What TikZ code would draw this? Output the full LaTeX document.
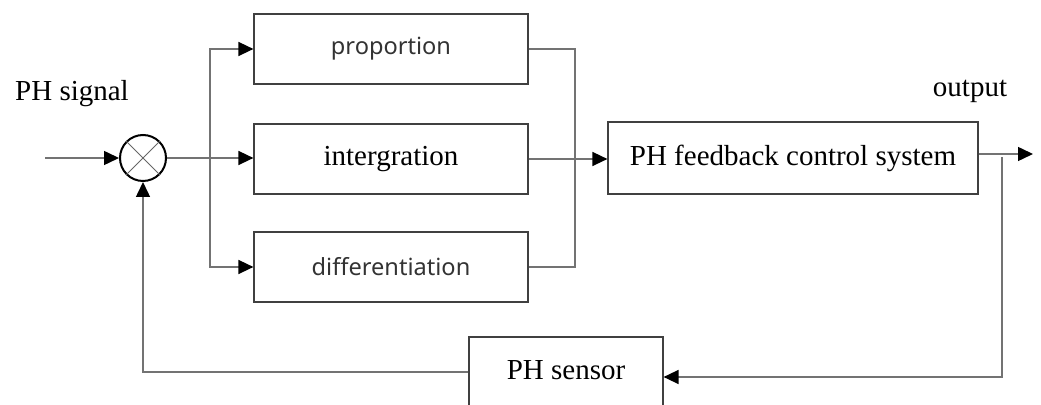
\documentclass[tikz,border=0pt]{standalone}
\usepackage{fontspec}
\setmainfont{Liberation Serif}
\newfontfamily\boxsans{Noto Sans}
\usetikzlibrary{arrows.meta}
\begin{document}
\begin{tikzpicture}
[x=0.5pt, y=-0.5pt, line width=0.6pt,
 txt/.style={font=\fontsize{14.5}{17}\selectfont},
 blk/.style={draw=black!75, inner sep=0pt, minimum width=137pt, minimum height=35pt, txt},
 sanslbl/.style={font=\boxsans\fontsize{11.8}{14}\selectfont, text=black!80},
 wire/.style={draw=black!55, line width=0.75pt},
 arr/.style={wire, -{Triangle[length=7.5pt, width=7pt, color=black]}}]
\useasboundingbox (0,0) rectangle (1041,405);
\node[blk, sanslbl] (prop) at (391,49) {proportion};
\node[blk] (integ) at (391,159) {intergration};
\node[blk, sanslbl] (diff) at (391,267) {differentiation};
\node[blk, minimum width=185pt, minimum height=36pt] (sys) at (793,158) {PH feedback control system};
\node[blk, minimum width=97pt, minimum height=40pt, text depth=7pt] (sens) at (566,377) {PH sensor};
\node[draw, circle, line width=1pt, minimum size=23pt, inner sep=0pt] (sum) at (143,158) {};
\draw[black!60, line width=0.5pt] (sum.45) -- (sum.225) (sum.135) -- (sum.315);
\node[txt, anchor=base] (sig) at (72,101) {PH signal};
\node[txt, anchor=base] (out) at (970,97) {output};
\coordinate (in) at (45,158);
\coordinate (split) at (210,158);
\coordinate (join) at (575,158);
\coordinate (tap) at (1002,157);
\coordinate (outend) at (1033,154);
\draw[arr] (in) -- (sum);
\draw[wire] (sum) -- (split);
\draw[arr] (split) |- (prop);
\draw[arr] (split) -- (split -| integ.west);
\draw[arr] (split) |- (diff);
\draw[wire] (prop) -| (join) |- (diff);
\draw[arr] (integ) -- (integ -| sys.west);
\draw[arr] (sys.east |- outend) -- (outend);
\draw[arr] (tap) |- (sens);
\draw[arr] ([yshift=2.5pt]sens.west) -| (sum);
\end{tikzpicture}
\end{document}
